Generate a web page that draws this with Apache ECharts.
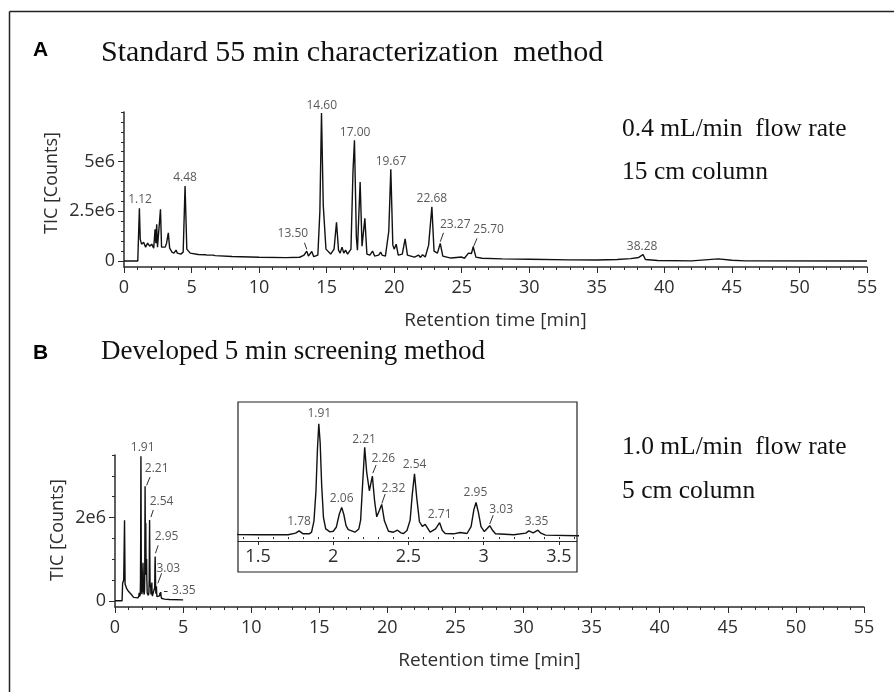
<!DOCTYPE html>
<html><head><meta charset="utf-8">
<script src="https://cdn.jsdelivr.net/npm/echarts@6/dist/echarts.min.js"></script>
<style>html,body{margin:0;padding:0;background:#fff}#c{width:894px;height:692px}</style>
</head><body><div id="c"></div>
<script>
// ---------- DATA (retention time [min], TIC in millions of counts) ----------
const topTrace = [
[0,0],[1.02,0],[1.06,0.9],[1.14,2.65],[1.2,1.1],[1.3,0.85],[1.45,0.95],[1.6,0.7],[1.75,0.9],[1.9,0.75],
[2.05,0.85],[2.2,0.65],[2.3,1.6],[2.36,0.9],[2.42,1.85],[2.48,0.7],[2.6,0.75],[2.7,2.6],[2.78,0.7],[2.9,0.65],
[3.05,0.7],[3.15,0.9],[3.28,1.42],[3.38,0.65],[3.55,0.45],[3.7,0.4],[3.85,0.55],[3.95,0.4],[4.2,0.35],[4.38,0.45],
[4.52,3.78],[4.65,0.6],[4.9,0.4],[5.5,0.33],[6.0,0.32],[6.05,0.38],[6.15,0.3],[6.6,0.3],[6.65,0.36],[6.75,0.27],
[8,0.23],[10,0.19],[12,0.17],[13.0,0.19],[13.3,0.28],[13.53,0.5],[13.65,0.25],[13.9,0.48],[14.05,0.22],[14.35,0.3],
[14.5,2.5],[14.62,7.45],[14.75,2.8],[14.95,0.6],[15.3,0.35],[15.55,0.6],[15.73,1.95],[15.88,0.55],[16.0,0.4],[16.14,0.7],
[16.27,0.4],[16.4,0.55],[16.55,0.35],[16.8,0.6],[16.95,4.5],[17.06,6.08],[17.2,1.2],[17.28,0.55],[17.48,3.98],[17.62,0.75],
[17.83,2.15],[17.98,0.35],[18.2,0.3],[18.4,0.5],[18.55,0.25],[18.85,0.3],[19.0,0.45],[19.1,0.3],[19.2,0.38],[19.35,0.25],
[19.6,1.5],[19.75,4.62],[19.9,0.8],[20.0,0.6],[20.15,0.85],[20.3,0.3],[20.6,0.35],[20.81,1.12],[20.98,0.3],[21.5,0.2],
[21.8,0.3],[21.95,0.18],[22.1,0.32],[22.3,0.2],[22.55,0.8],[22.79,2.73],[22.95,0.5],[23.2,0.4],[23.41,0.89],[23.6,0.25],
[24.2,0.15],[25.0,0.2],[25.2,0.14],[25.5,0.4],[25.62,0.5],[25.72,0.38],[25.85,0.72],[26.05,0.2],[26.5,0.14],[28,0.11],
[30,0.09],[33,0.06],[35,0.05],[36.5,0.08],[37.5,0.12],[38.1,0.18],[38.42,0.32],[38.6,0.08],[39.5,0.03],[42.0,0.01],
[42.05,0.05],[43.0,0.06],[44.0,0.11],[45.0,0.04],[46,0.01],[55,0.0]
];
const bottomTrace = [
[0,0],[0.52,0],[0.56,0.42],[0.64,0.5],[0.70,1.93],[0.74,0.4],[0.85,0.3],[1.0,0.22],[1.2,0.15],[1.367,0.08],
[1.5,0.07],[1.7,0.07],[1.75,0.12],[1.773,0.19],[1.8,0.1],[1.84,0.1],[1.856,0.15],[1.872,0.5],[1.885,1.4],[1.895,2.7],
[1.904,3.47],[1.913,2.9],[1.923,1.6],[1.935,0.6],[1.95,0.25],[1.978,0.16],[2.0,0.18],[2.02,0.3],[2.04,0.7],[2.056,0.91],
[2.07,0.7],[2.085,0.35],[2.1,0.23],[2.144,0.15],[2.17,0.25],[2.182,0.52],[2.195,1.6],[2.209,2.75],[2.222,2.0],[2.24,1.42],
[2.26,1.87],[2.275,1.1],[2.289,0.62],[2.305,0.8],[2.322,1.0],[2.34,0.5],[2.367,0.18],[2.4,0.15],[2.427,0.21],[2.45,0.13],
[2.467,0.11],[2.49,0.2],[2.511,0.52],[2.525,1.3],[2.54,1.94],[2.555,1.2],[2.573,0.47],[2.592,0.33],[2.611,0.39],[2.644,0.15],
[2.68,0.25],[2.707,0.44],[2.725,0.2],[2.744,0.11],[2.8,0.1],[2.844,0.14],[2.889,0.11],[2.916,0.32],[2.935,0.85],[2.949,1.06],
[2.965,0.75],[2.982,0.32],[3.004,0.17],[3.02,0.25],[3.04,0.35],[3.06,0.2],[3.078,0.1],[3.2,0.07],[3.28,0.12],[3.3,0.19],
[3.329,0.13],[3.36,0.21],[3.38,0.12],[3.411,0.06],[3.622,0.04],[4.0,0.03],[5.0,0.02]
];
// peak annotations: [label-centre time, label-centre value, text]
const topPeakLabels = [
[1.19,3.10,'1.12'],[4.52,4.21,'4.48'],[12.50,1.39,'13.50'],[14.64,7.84,'14.60'],[17.11,6.45,'17.00'],
[19.76,5.03,'19.67'],[22.79,3.12,'22.68'],[24.52,1.81,'23.27'],[26.99,1.56,'25.70'],[38.35,0.72,'38.28']
];
const topLeaders = [
[[13.36,0.92],[13.53,0.59]],[[23.41,0.97],[23.65,1.42]],[[25.87,0.72],[26.13,1.14]]
];
const bottomPeakLabels = [
[2.03,3.69,'1.91'],[3.06,3.18,'2.21'],[3.42,2.37,'2.54'],[3.79,1.53,'2.95'],[3.91,0.78,'3.03'],[5.05,0.24,'3.35']
];
const bottomLeaders = [
[[2.32,2.77],[2.57,2.97]],[[2.64,2.01],[2.81,2.18]],[[2.97,1.14],[3.17,1.33]],[[3.15,0.42],[3.42,0.66]],[[3.59,0.24],[3.86,0.24]]
];
const insetPeakLabels = [
[1.773,0.47,'1.78'],[1.907,3.77,'1.91'],[2.056,1.19,'2.06'],[2.205,3.00,'2.21'],[2.333,2.42,'2.26'],[2.40,1.50,'2.32'],
[2.54,2.21,'2.54'],[2.707,0.70,'2.71'],[2.945,1.36,'2.95'],[3.116,0.83,'3.03'],[3.351,0.49,'3.35']
];
const insetLeaders = [
[[2.263,1.96],[2.285,2.21]],[[2.323,1.03],[2.345,1.32]],[[3.04,0.40],[3.063,0.67]]
];
const topYTicks = [0,2.5,5];
const topYTickLabels = ['0','2.5e6','5e6'];
const topYMinor = [0,0.5,1,1.5,2,2.5,3,3.5,4,4.5,5,5.5,6,6.5,7,7.5];
const bottomYTicks = [0,2];
const bottomYTickLabels = ['0','2e6'];
const bottomYMinor = [0,0.5,1,1.5,2,2.5,3,3.5];
const insetXTicks = [1.5,2,2.5,3,3.5];
const insetXTickLabels = ['1.5','2','2.5','3','3.5'];
const insetXMinor = [1.4,1.5,1.6,1.7,1.8,1.9,2,2.1,2.2,2.3,2.4,2.5,2.6,2.7,2.8,2.9,3,3.1,3.2,3.3,3.4,3.5,3.6];

// ---------- STYLE ----------
const AX = '#2b2b2b', TXT = '#2e2e2e', TRACE = '#111';
const sans = '"Open Sans", "Noto Sans", sans-serif';
const serif = '"Liberation Serif", "Times New Roman", serif';

function xAxisMain(grid){
  return {type:'value',gridIndex:grid,min:0,max:55,interval:5,
    name:'Retention time [min]',nameLocation:'middle',nameGap:44,
    nameTextStyle:{fontFamily:sans,fontSize:19,color:TXT},
    axisLine:{onZero:false,lineStyle:{color:AX,width:1.5}},
    axisTick:{length:6,lineStyle:{color:AX,width:1}},
    minorTick:{show:true,splitNumber:5,length:3,lineStyle:{color:AX,width:1}},
    axisLabel:{fontFamily:sans,fontSize:18,color:TXT,margin:12},
    splitLine:{show:false},minorSplitLine:{show:false}};
}
function yMain(grid,min,max,ticks,labels){
  return {type:'value',gridIndex:grid,min:min,max:max,
    axisLine:{show:true,onZero:false,lineStyle:{color:AX,width:1.5}},
    axisTick:{show:true,length:6,customValues:ticks,lineStyle:{color:AX,width:1}},
    axisLabel:{show:true,customValues:ticks,fontFamily:sans,fontSize:18,color:TXT,margin:9,
      formatter:(v)=>{const i=ticks.indexOf(v);return i>=0?labels[i]:'';}},
    splitLine:{show:false}};
}
function yMinor(grid,min,max,ticks){
  return {type:'value',gridIndex:grid,min:min,max:max,position:'left',
    axisLine:{show:false},axisLabel:{show:false},splitLine:{show:false},
    axisTick:{show:true,length:3,customValues:ticks,lineStyle:{color:AX,width:1}}};
}
function labelSeries(xi,yi,arr,size){
  return {type:'scatter',xAxisIndex:xi,yAxisIndex:yi,clip:false,silent:true,symbolSize:1,
    itemStyle:{color:'rgba(0,0,0,0)'},z:5,
    data:arr.map(d=>({value:[d[0],d[1]],name:d[2]})),
    label:{show:true,position:'inside',formatter:'{b}',fontFamily:sans,fontSize:size,color:TXT}};
}
function leaderSeries(xi,yi,arr){
  return {type:'lines',coordinateSystem:'cartesian2d',xAxisIndex:xi,yAxisIndex:yi,silent:true,z:5,
    lineStyle:{color:TXT,width:1,opacity:1},data:arr.map(s=>({coords:s}))};
}
function traceSeries(xi,yi,data){
  return {type:'line',xAxisIndex:xi,yAxisIndex:yi,data:data,symbol:'none',clip:true,
    lineStyle:{color:TRACE,width:1.4},z:3};
}

const option = {
  animation:false,
  backgroundColor:'#fff',
  grid:[
    {left:124,width:743,top:112,height:155},
    {left:115,width:749,top:455,height:152},
    {left:238,width:339,top:402,height:139}
  ],
  xAxis:[
    xAxisMain(0),
    xAxisMain(1),
    {type:'value',gridIndex:2,min:1.367,max:3.62,
      axisLine:{onZero:false,lineStyle:{color:AX,width:1}},
      axisTick:{length:4,customValues:insetXTicks,lineStyle:{color:AX,width:1}},
      axisLabel:{customValues:insetXTicks,fontFamily:sans,fontSize:18,color:TXT,margin:7,
        formatter:(v)=>{const i=insetXTicks.indexOf(v);return i>=0?insetXTickLabels[i]:'';}},
      splitLine:{show:false}},
    {type:'value',gridIndex:2,min:1.367,max:3.62,position:'bottom',
      axisLine:{show:false},axisLabel:{show:false},splitLine:{show:false},
      axisTick:{length:2,customValues:insetXMinor,lineStyle:{color:AX,width:1}}}
  ],
  yAxis:[
    yMain(0,-0.3,7.5,topYTicks,topYTickLabels),
    yMinor(0,-0.3,7.5,topYMinor),
    yMain(1,-0.15,3.5,bottomYTicks,bottomYTickLabels),
    yMinor(1,-0.15,3.5,bottomYMinor),
    {type:'value',gridIndex:2,min:-0.12,max:4.14,show:false}
  ],
  series:[
    traceSeries(0,0,topTrace),
    labelSeries(0,0,topPeakLabels,12),
    leaderSeries(0,0,topLeaders),
    traceSeries(1,2,bottomTrace),
    labelSeries(1,2,bottomPeakLabels,12),
    leaderSeries(1,2,bottomLeaders),
    traceSeries(2,4,bottomTrace),
    labelSeries(2,4,insetPeakLabels,12),
    leaderSeries(2,4,insetLeaders)
  ],
  graphic:[
    {type:'line',shape:{x1:9.5,y1:11.5,x2:894,y2:11.5},style:{stroke:'#222',lineWidth:1.5},silent:true},
    {type:'line',shape:{x1:9.5,y1:11.5,x2:9.5,y2:692},style:{stroke:'#222',lineWidth:1.5},silent:true},
    {type:'rect',shape:{x:238,y:402,width:339,height:170},style:{fill:null,stroke:'#222',lineWidth:1.2},silent:true,z:10},
    {type:'text',x:33,y:50,style:{text:'A',font:'bold 21px "Liberation Sans", Arial, sans-serif',fill:'#000',verticalAlign:'middle'}},
    {type:'text',x:101,y:53,style:{text:'Standard 55 min characterization  method',font:'30px '+serif,fill:'#111',verticalAlign:'middle'}},
    {type:'text',x:622,y:129,style:{text:'0.4 mL/min  flow rate',font:'25.5px '+serif,fill:'#111',verticalAlign:'middle'}},
    {type:'text',x:622,y:172,style:{text:'15 cm column',font:'25.5px '+serif,fill:'#111',verticalAlign:'middle'}},
    {type:'text',x:33,y:353,style:{text:'B',font:'bold 21px "Liberation Sans", Arial, sans-serif',fill:'#000',verticalAlign:'middle'}},
    {type:'text',x:101,y:352,style:{text:'Developed 5 min screening method',font:'27px '+serif,fill:'#111',verticalAlign:'middle'}},
    {type:'text',x:622,y:447,style:{text:'1.0 mL/min  flow rate',font:'25.5px '+serif,fill:'#111',verticalAlign:'middle'}},
    {type:'text',x:622,y:491,style:{text:'5 cm column',font:'25.5px '+serif,fill:'#111',verticalAlign:'middle'}},
    {type:'text',x:52,y:183,rotation:Math.PI/2,style:{text:'TIC [Counts]',font:'18px '+sans,fill:TXT,align:'center',verticalAlign:'middle'}},
    {type:'text',x:58,y:530,rotation:Math.PI/2,style:{text:'TIC [Counts]',font:'18px '+sans,fill:TXT,align:'center',verticalAlign:'middle'}}
  ]
};
const chart = echarts.init(document.getElementById('c'),null,{renderer:'canvas'});
chart.setOption(option);
</script>
</body></html>
